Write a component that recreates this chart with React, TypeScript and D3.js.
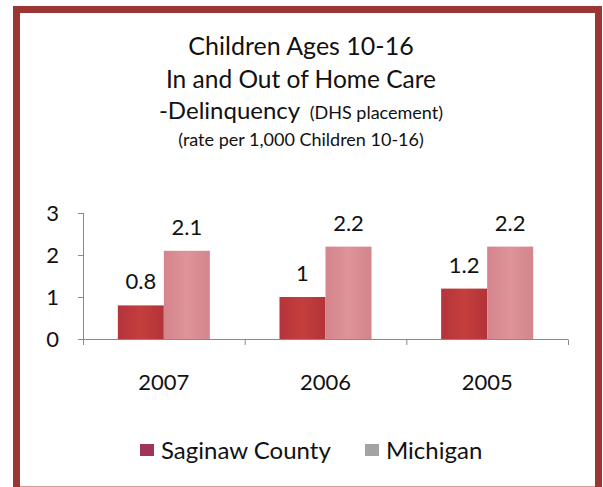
import React from "react";
import * as d3 from "d3";

const categories = ["2007", "2006", "2005"];
const seriesNames = ["Saginaw County", "Michigan"];
const saginaw = [0.8, 1, 1.2];
const michigan = [2.1, 2.2, 2.2];
const saginawLabels = ["0.8", "1", "1.2"];
const michiganLabels = ["2.1", "2.2", "2.2"];
const yTicks = [0, 1, 2, 3];

const FONT = "Lato, 'Open Sans', sans-serif";

export default function App() {
  const W = 603, H = 487;
  const x = d3.scaleBand<string>().domain(categories).range([83, 568]).paddingInner(0).paddingOuter(0);
  const sub = d3.scaleBand<string>().domain(seriesNames).range([0, x.bandwidth()]).paddingInner(0).paddingOuter(0.757);
  const y = d3.scaleLinear().domain([0, 3]).range([339, 213]);
  const values = [saginaw, michigan];
  const labels = [saginawLabels, michiganLabels];
  const fills = ["url(#gSag)", "url(#gMich)"];
  const boundaries = [...categories.map((c) => x(c)!), 568];

  return (
    <svg width={W} height={H} style={{ position: "absolute", left: 0, top: 0 }} fontFamily={FONT}>
      <defs>
        <linearGradient id="gSag" x1="0" x2="1" y1="0" y2="0">
          <stop offset="0" stopColor="#B5343B" />
          <stop offset="0.5" stopColor="#C43E3C" />
          <stop offset="1" stopColor="#B33339" />
        </linearGradient>
        <linearGradient id="gMich" x1="0" x2="1" y1="0" y2="0">
          <stop offset="0" stopColor="#D4848C" />
          <stop offset="0.5" stopColor="#DE9499" />
          <stop offset="1" stopColor="#D3858C" />
        </linearGradient>
      </defs>
      <rect x={0} y={0} width={W} height={H} fill="#ffffff" />
      <rect x={16.5} y={9.5} width={582} height={490} fill="#ffffff" stroke="#9A3733" strokeWidth={7} />
      <line x1={20} x2={595} y1={486.5} y2={486.5} stroke="#D99A9A" strokeWidth={1} />

      <g fill="#111" textAnchor="middle">
        <text x={301} y={55} fontSize={25}>Children Ages 10-16</text>
        <text x={301} y={88} fontSize={24.5}>In and Out of Home Care</text>
        <text x={301} y={119}>
          <tspan fontSize={24}>-Delinquency </tspan>
          <tspan fontSize={18} dx={4}>(DHS placement)</tspan>
        </text>
        <text x={301} y={146} fontSize={18}>(rate per 1,000 Children 10-16)</text>
      </g>

      {/* y axis */}
      <line x1={83.5} x2={83.5} y1={y(3)} y2={y(0)} stroke="#8a8a8a" />
      {yTicks.map((t) => (
        <g key={t}>
          <line x1={78} x2={83.5} y1={y(t) + 0.5} y2={y(t) + 0.5} stroke="#8a8a8a" />
          <text x={59} y={y(t) + 8} fontSize={22} textAnchor="end" fill="#111">{t}</text>
        </g>
      ))}

      {/* bars */}
      {categories.map((c, i) => (
        <g key={c}>
          {seriesNames.map((s, j) => {
            const bx = x(c)! + sub(s)!;
            const v = values[j][i];
            return (
              <g key={s}>
                <rect x={bx} y={y(v)} width={sub.bandwidth()} height={y(0) - y(v)} fill={fills[j]} />
                <text x={bx + sub.bandwidth() / 2} y={y(v) - 16} fontSize={22} textAnchor="middle" fill="#111">
                  {labels[j][i]}
                </text>
              </g>
            );
          })}
        </g>
      ))}

      {/* x axis */}
      <line x1={83} x2={568} y1={339.5} y2={339.5} stroke="#8a8a8a" />
      {boundaries.map((b, i) => (
        <line key={i} x1={b + 0.5} x2={b + 0.5} y1={339.5} y2={345} stroke="#8a8a8a" />
      ))}
      {categories.map((c) => (
        <text key={c} x={x(c)! + x.bandwidth() / 2} y={390} fontSize={22} textAnchor="middle" fill="#111">{c}</text>
      ))}

      {/* legend */}
      <rect x={140} y={444} width={14} height={12} fill="#9E3558" />
      <text x={161} y={459} fontSize={24} fill="#111">{seriesNames[0]}</text>
      <rect x={365} y={444} width={14} height={12} fill="#A3A3A3" />
      <text x={386} y={459} fontSize={24} fill="#111">{seriesNames[1]}</text>
    </svg>
  );
}
